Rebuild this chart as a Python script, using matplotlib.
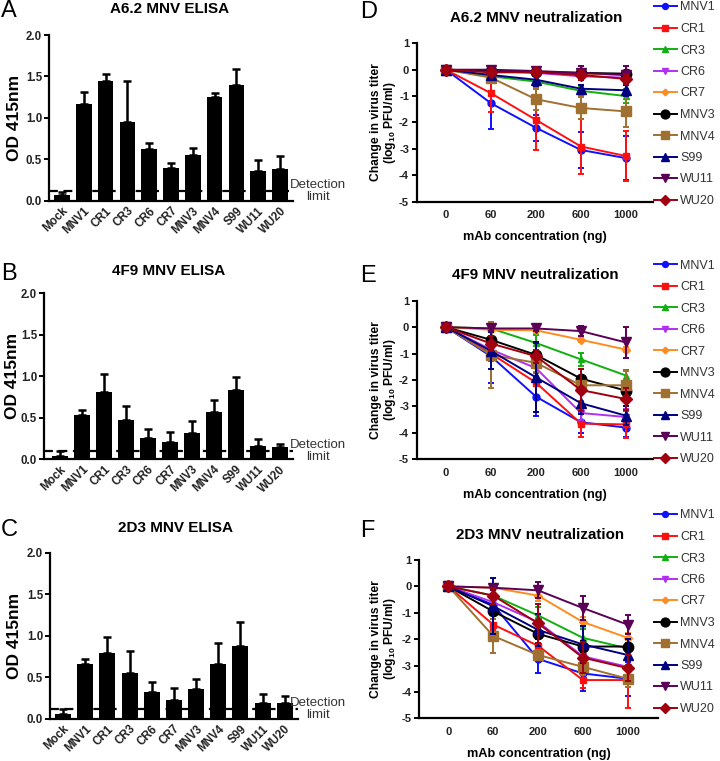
import matplotlib
matplotlib.use("Agg")
import matplotlib.pyplot as plt
import matplotlib.transforms as mtransforms
from matplotlib.lines import Line2D
import numpy as np

plt.rcParams['font.family'] = ['Liberation Sans', 'DejaVu Sans']
plt.rcParams['axes.unicode_minus'] = False
plt.rcParams['mathtext.fontset'] = 'custom'
plt.rcParams['mathtext.bf'] = 'Liberation Sans:bold'
plt.rcParams['mathtext.rm'] = 'Liberation Sans:bold'
plt.rcParams['mathtext.default'] = 'bf'

# ---------------- Data ----------------
viruses = ["Mock", "MNV1", "CR1", "CR3", "CR6", "CR7", "MNV3", "MNV4", "S99", "WU11", "WU20"]

a62_elisa = [0.07, 1.17, 1.45, 0.95, 0.63, 0.39, 0.55, 1.25, 1.40, 0.355, 0.38]
a62_elisa_err = [0.04, 0.14, 0.08, 0.50, 0.07, 0.06, 0.09, 0.05, 0.19, 0.135, 0.16]
a62_limit = 0.12

f49_elisa = [0.045, 0.535, 0.815, 0.475, 0.26, 0.21, 0.32, 0.575, 0.83, 0.16, 0.145]
f49_elisa_err = [0.055, 0.065, 0.215, 0.165, 0.11, 0.12, 0.14, 0.145, 0.16, 0.09, 0.045]
f49_limit = 0.10

d23_elisa = [0.06, 0.66, 0.79, 0.555, 0.32, 0.225, 0.36, 0.66, 0.88, 0.185, 0.195]
d23_elisa_err = [0.06, 0.06, 0.19, 0.26, 0.125, 0.14, 0.12, 0.25, 0.29, 0.115, 0.08]
d23_limit = 0.12

doses = ["0", "60", "200", "600", "1000"]
strains = ["MNV1", "CR1", "CR3", "CR6", "CR7", "MNV3", "MNV4", "S99", "WU11", "WU20"]
colors = ["#1010FF", "#FF1010", "#10B010", "#B030F0", "#FF8C20",
          "#000000", "#A07030", "#000080", "#5A0055", "#A00010"]
markers = ["o", "s", "^", "v", "D", "o", "s", "^", "v", "D"]
msizes = [5, 5, 5, 5, 4, 7.5, 7.5, 7.5, 7.5, 6.5]

# Panel D: A6.2 neutralization
a62_neut = {
    "MNV1": [0, -1.27, -2.2, -3.04, -3.35],
    "CR1":  [0, -0.89, -1.9, -2.91, -3.27],
    "CR3":  [0, -0.25, -0.45, -0.8, -1.0],
    "CR6":  [0, -0.05, -0.12, -0.25, -0.3],
    "CR7":  [0, -0.05, -0.1, -0.15, -0.2],
    "MNV3": [0, -0.05, -0.08, -0.12, -0.15],
    "MNV4": [0, -0.3, -1.12, -1.45, -1.58],
    "S99":  [0, -0.2, -0.38, -0.72, -0.78],
    "WU11": [0, 0.0, -0.05, -0.12, -0.2],
    "WU20": [0, -0.1, -0.1, -0.2, -0.35],
}
a62_neut_err = {
    "MNV1": [0.05, 0.98, 0.5, 0.68, 0.82],
    "CR1":  [0.05, 0.7, 1.15, 1.05, 0.95],
    "CR3":  [0.05, 0.12, 0.2, 0.2, 0.25],
    "CR6":  [0.05, 0.1, 0.1, 0.15, 0.15],
    "CR7":  [0.05, 0.05, 0.05, 0.1, 0.1],
    "MNV3": [0.05, 0.05, 0.05, 0.1, 0.1],
    "MNV4": [0.05, 0.15, 0.4, 0.42, 0.6],
    "S99":  [0.05, 0.15, 0.25, 0.15, 0.2],
    "WU11": [0.05, 0.1, 0.15, 0.25, 0.35],
    "WU20": [0.05, 0.1, 0.1, 0.2, 0.2],
}

# Panel E: 4F9 neutralization
f49_neut = {
    "MNV1": [0, -1.1, -2.63, -3.6, -3.8],
    "CR1":  [0, -1.0, -2.1, -3.65, -3.68],
    "CR3":  [0, -0.05, -0.6, -1.22, -1.83],
    "CR6":  [0, -0.85, -1.55, -3.25, -3.4],
    "CR7":  [0, -0.1, -0.12, -0.48, -0.85],
    "MNV3": [0, -0.48, -1.05, -1.95, -2.4],
    "MNV4": [0, -1.05, -1.35, -2.2, -2.2],
    "S99":  [0, -0.9, -1.9, -2.88, -3.35],
    "WU11": [0, -0.05, -0.05, -0.15, -0.58],
    "WU20": [0, -0.62, -1.1, -2.38, -2.72],
}
f49_neut_err = {
    "MNV1": [0.05, 1.0, 0.75, 0.4, 0.35],
    "CR1":  [0.05, 0.3, 1.1, 0.5, 0.5],
    "CR3":  [0.05, 0.1, 0.3, 0.25, 0.2],
    "CR6":  [0.05, 0.2, 0.2, 0.25, 0.3],
    "CR7":  [0.05, 0.05, 0.1, 0.1, 0.1],
    "MNV3": [0.05, 0.15, 0.5, 0.35, 0.3],
    "MNV4": [0.05, 1.25, 0.35, 0.6, 0.55],
    "S99":  [0.05, 0.7, 1.3, 0.4, 0.35],
    "WU11": [0.05, 0.1, 0.1, 0.2, 0.58],
    "WU20": [0.05, 0.3, 0.25, 0.8, 0.4],
}

# Panel F: 2D3 neutralization
d23_neut = {
    "MNV1": [0, -0.7, -2.75, -3.3, -3.5],
    "CR1":  [0, -1.45, -2.25, -3.55, -3.55],
    "CR3":  [0, -0.35, -1.1, -1.95, -2.35],
    "CR6":  [0, -0.6, -1.35, -2.65, -3.05],
    "CR7":  [0, -0.05, -0.35, -1.35, -1.95],
    "MNV3": [0, -0.95, -1.8, -2.28, -2.28],
    "MNV4": [0, -1.88, -2.6, -3.05, -3.5],
    "S99":  [0, -0.75, -1.65, -2.2, -2.6],
    "WU11": [0, -0.05, -0.15, -0.82, -1.45],
    "WU20": [0, -0.35, -1.4, -2.7, -3.1],
}
d23_neut_err = {
    "MNV1": [0.05, 0.8, 0.55, 0.65, 0.65],
    "CR1":  [0.05, 0.2, 0.4, 0.3, 1.05],
    "CR3":  [0.05, 0.2, 0.3, 0.35, 0.3],
    "CR6":  [0.05, 0.2, 0.25, 0.3, 0.3],
    "CR7":  [0.05, 0.1, 0.2, 0.2, 0.2],
    "MNV3": [0.05, 0.3, 0.2, 0.2, 0.15],
    "MNV4": [0.05, 0.65, 0.2, 0.3, 0.3],
    "S99":  [0.05, 1.05, 0.6, 0.7, 0.6],
    "WU11": [0.05, 0.1, 0.3, 0.45, 0.35],
    "WU20": [0.05, 0.3, 0.75, 0.6, 0.5],
}

W, H = 720, 761
fig = plt.figure(figsize=(W / 100, H / 100), dpi=100)


def px_axes(left, top, right, bottom):
    return fig.add_axes([left / W, 1 - bottom / H, (right - left) / W, (bottom - top) / H])


def bar_panel(box, xlim, vals, errs, limit, title, title_xy, letter, letter_xy, ylab_x):
    ax = px_axes(*box)
    x = np.arange(len(viruses))
    ax.axhline(limit, color="black", lw=1.6, ls=(0, (4, 2.5)), zorder=1)
    ax.bar(x, vals, width=0.72, color="black", zorder=2)
    ax.errorbar(x, vals, yerr=[np.zeros(len(vals)), errs], fmt="none", ecolor="black",
                elinewidth=1.8, capsize=3.2, capthick=1.8, zorder=3)
    ax.set_xlim(*xlim)
    ax.set_ylim(0, 2.0)
    ax.set_yticks([0, 0.5, 1.0, 1.5, 2.0])
    ax.set_yticklabels(["0.0", "0.5", "1.0", "1.5", "2.0"], fontsize=8.3, fontweight="bold", color="#222222")
    ax.set_xticks(x)
    ax.set_xticklabels(viruses, rotation=45, ha="right", rotation_mode="anchor",
                       fontsize=8.3, fontweight="bold", color="#222222")
    for s in ["top", "right"]:
        ax.spines[s].set_visible(False)
    for s in ["left", "bottom"]:
        ax.spines[s].set_linewidth(1.6)
    ax.tick_params(axis="both", width=1.4, length=3.5, pad=1.5)
    ax.tick_params(axis="x", length=0, pad=3)
    ax.set_ylabel("OD 415nm", fontsize=12.5, fontweight="bold", va="center")
    ax.yaxis.set_label_coords((ylab_x - box[0]) / (box[2] - box[0]), 0.5)
    fig.text(title_xy[0] / W, 1 - title_xy[1] / H, title, ha="center", va="center",
             fontsize=11, fontweight="bold")
    fig.text(letter_xy[0] / W, 1 - letter_xy[1] / H, letter, ha="left", va="center", fontsize=17)
    ax.text(318 / W, limit, "Detection\nlimit",
            transform=mtransforms.blended_transform_factory(fig.transFigure, ax.transData),
            ha="center", va="center", fontsize=9.5, color="#333333", linespacing=1.05, clip_on=False)
    return ax


def line_panel(box, xlim, data, errs, title, title_xy, letter, letter_xy, legend_top):
    ax = px_axes(*box)
    x = np.arange(len(doses))
    handles = []
    for i, s in enumerate(strains):
        ax.errorbar(x, data[s], yerr=errs[s], color=colors[i], marker=markers[i], ms=msizes[i],
                    lw=1.4, elinewidth=1.4, capsize=2.5, capthick=1.4, zorder=2 + i * 0.1)
        handles.append(Line2D([0], [0], color=colors[i], marker=markers[i], ms=msizes[i] * 0.85, lw=1.4))
    ax.set_xlim(*xlim)
    ax.set_ylim(-5, 1)
    ax.set_yticks([1, 0, -1, -2, -3, -4, -5])
    ax.set_yticklabels(["1", "0", "-1", "-2", "-3", "-4", "-5"], fontsize=8, fontweight="bold", color="#222222")
    ax.set_xticks(x)
    ax.set_xticklabels(doses, fontsize=8, fontweight="bold", color="#222222")
    for s in ["top", "right"]:
        ax.spines[s].set_visible(False)
    for s in ["left", "bottom"]:
        ax.spines[s].set_linewidth(1.6)
    ax.tick_params(axis="both", width=1.4, length=3.5, pad=2)
    ax.tick_params(axis="x", length=0, pad=6)
    ax.set_xlabel("mAb concentration (ng)", fontsize=9.2, fontweight="bold", labelpad=8)
    ax.set_ylabel("Change in virus titer\n(log$_{10}$ PFU/ml)", fontsize=8.7, fontweight="bold",
                  linespacing=1.05, va="center")
    ax.yaxis.set_label_coords((384 - box[0]) / (box[2] - box[0]), 0.5)
    fig.text(title_xy[0] / W, 1 - title_xy[1] / H, title, ha="center", va="center",
             fontsize=10.9, fontweight="bold")
    fig.text(letter_xy[0] / W, 1 - letter_xy[1] / H, letter, ha="left", va="center", fontsize=17)
    leg = ax.legend(handles, strains, loc="upper left", bbox_to_anchor=(654 / W, 1 - legend_top / H),
                    bbox_transform=fig.transFigure, frameon=False, fontsize=9, handlelength=1.8,
                    handletextpad=0.3, labelspacing=0.76, borderaxespad=0, borderpad=0)
    for t in leg.get_texts():
        t.set_color("#333333")
    return ax


bar_panel((49, 35, 293, 200.7), (-0.6, 10.6), a62_elisa, a62_elisa_err, a62_limit,
          "A6.2 MNV ELISA", (170, 9), "A", (1, 11), 15)
bar_panel((44, 293.3, 293, 459.3), (-0.73, 10.6), f49_elisa, f49_elisa_err, f49_limit,
          "4F9 MNV ELISA", (169, 271), "B", (1, 274), 12.5)
bar_panel((50, 552.7, 298, 718.7), (-0.59, 10.6), d23_elisa, d23_elisa_err, d23_limit,
          "2D3 MNV ELISA", (175, 528), "C", (1, 530), 15)

line_panel((416.7, 43.3, 653, 201.7), (-0.65, 4.6), a62_neut, a62_neut_err,
           "A6.2 MNV neutralization", (536, 18), "D", (360, 12), 1.5)
line_panel((416.7, 300.7, 653, 459.3), (-0.65, 4.6), f49_neut, f49_neut_err,
           "4F9 MNV neutralization", (535, 275), "E", (360, 276), 259.5)
line_panel((419.3, 560, 657.7, 718.3), (-0.65, 4.67), d23_neut, d23_neut_err,
           "2D3 MNV neutralization", (540, 535), "F", (360, 531), 509.5)

fig.savefig("out.png", dpi=100)
